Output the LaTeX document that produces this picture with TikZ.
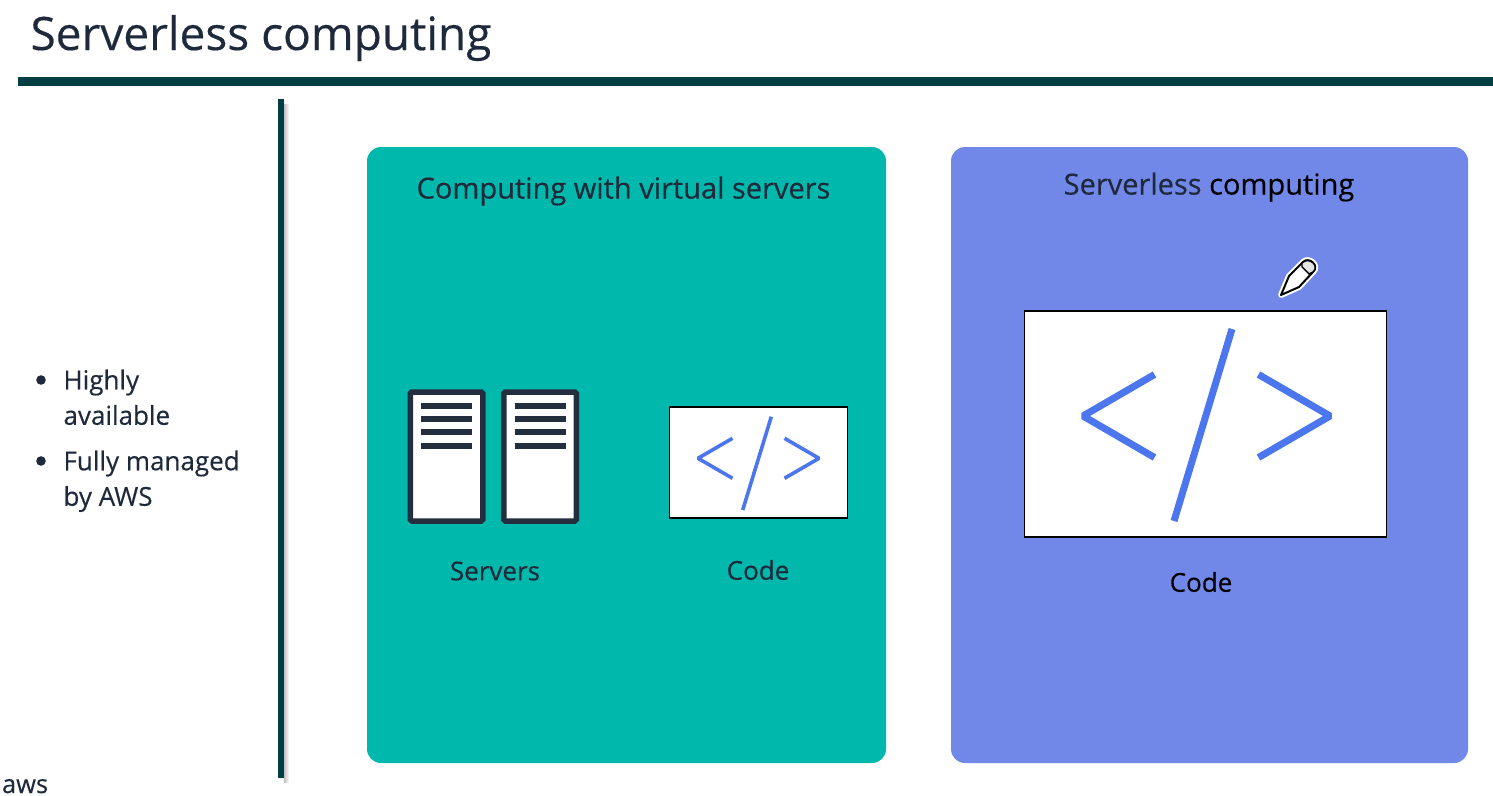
\documentclass[tikz,border=0pt]{standalone}
\usepackage{fontspec}
\setmainfont[FakeBold=0.3]{Open Sans}
\usetikzlibrary{calc}
\definecolor{ink}{HTML}{1E2A3C}
\definecolor{rule}{HTML}{033F42}
\definecolor{teal}{HTML}{00B8AB}
\definecolor{periwinkle}{HTML}{7288E8}
\definecolor{glyph}{HTML}{4C76EE}
\definecolor{rack}{HTML}{232F3E}
\newcommand{\codeglyph}[6]{%
  \draw[glyph,line width=#6,line join=bevel] ($(#1,#2)+(-#3,-#5)$) -- ($(#1,#2)+(-#4,0)$) -- ($(#1,#2)+(-#3,#5)$);
  \draw[glyph,line width=#6,line join=bevel] ($(#1,#2)+(#3,-#5)$) -- ($(#1,#2)+(#4,0)$) -- ($(#1,#2)+(#3,#5)$);
}
\begin{document}
\begin{tikzpicture}[x=1pt,y=-1pt,inner sep=0pt,outer sep=0pt]
  \tikzstyle{panel}=[rectangle,rounded corners=14pt,minimum height=616pt]
  \tikzstyle{codebox}=[rectangle,draw=black,fill=white,line width=1.6pt]
  \tikzstyle{tower}=[rectangle,draw=rack,fill=white,line width=5.5pt,rounded corners=1.5pt,
                     minimum width=72.5pt,minimum height=129pt]
  \tikzstyle{shelf}=[rack,line width=6pt]
  \tikzstyle{caption}=[text=ink,font=\fontsize{26}{31}\selectfont]
  \tikzstyle{heading}=[text=ink,font=\fontsize{29}{34}\selectfont]
  \tikzstyle{bullet}=[text=ink,font=\fontsize{26}{35.5}\selectfont,align=left,anchor=north west]

  \useasboundingbox (0,0) rectangle (1493,795);
  \clip (0,0) rectangle (1493,795);
  \fill[white] (0,0) rectangle (1493,795);

  \node[anchor=base west,text=ink,font=\fontsize{46}{50}\selectfont] (title) at (30.5,50) {Serverless computing};
  \fill[rule] (18,77) rectangle (1493,86);
  \shade[left color=black!25,right color=white] (284,104) rectangle (289,782);
  \fill[rule] (278,99) rectangle (284,778);

  \node[bullet] (first) at (63.5,369.5) {Highly\\available};
  \node[bullet] (second) at (63.5,450.5) {Fully managed\\by AWS};
  \fill[ink] (41,380) circle (4.8pt);
  \fill[ink] (41,461) circle (4.8pt);
  \node[anchor=base west,text=ink,font=\fontsize{25.5}{30}\selectfont] (aws) at (2,793) {aws};

  \node[panel,fill=teal,minimum width=519pt] (virtual) at (626.5,455) {};
  \node[panel,fill=periwinkle,minimum width=517pt] (serverless) at (1209.5,455) {};

  \node[heading] (virtualtitle) at (623.5,191) {Computing with virtual servers};
  \node[heading] (serverlesstitle) at (1209,187) {Serverless \textcolor{black}{computing}};

  \node[tower] (serverone) at (446.5,456.5) {};
  \node[tower] (servertwo) at (540,456.5) {};
  \foreach \row in {405.5,418.8,432.2,445.6} {
    \draw[shelf] (421,\row) -- (472,\row);
    \draw[shelf] (514.5,\row) -- (566,\row);
  }
  \node[caption] (servers) at (495,571) {Servers};

  \node[codebox,minimum width=178pt,minimum height=111pt] (smallcode) at (758.5,462.5) {};
  \codeglyph{758.5}{458.3}{26}{60.5}{20}{3.6pt}
  \draw[glyph,line width=3.6pt] (771.3,416.7) -- (742.7,510);
  \node[caption] (smalllabel) at (758,570) {Code};

  \node[codebox,minimum width=362pt,minimum height=226pt] (bigcode) at (1205.5,424) {};
  \codeglyph{1206.5}{416}{52}{123.5}{41.5}{7pt}
  \draw[glyph,line width=7pt] (1232,329) -- (1174,521);
  \node[caption,text=black] (biglabel) at (1201,582) {Code};

  \draw[white,line width=6pt,line join=round,fill=white] (1281,295) -- (1289,276) -- (1303,262) .. controls (1309,256) and (1320,266) .. (1313,272) -- (1299,287) -- cycle;
  \draw[black,line width=2pt,line join=round,fill=white] (1281,295) -- (1289,276) -- (1303,262) .. controls (1309,256) and (1320,266) .. (1313,272) -- (1299,287) -- cycle;
  \draw[black,line width=1.4pt,fill=black!10] (1302,263) .. controls (1309,256) and (1320,266) .. (1313,272) -- (1309,274) -- (1302,267) -- cycle;
\end{tikzpicture}
\end{document}
